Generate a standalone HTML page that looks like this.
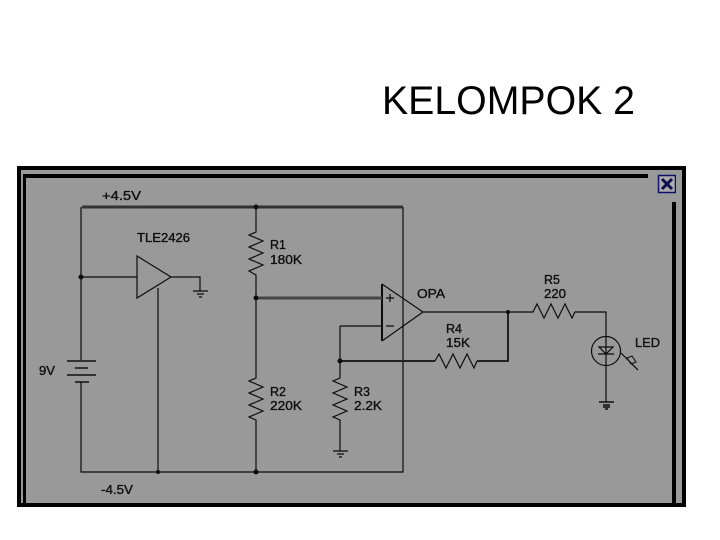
<!DOCTYPE html>
<html>
<head>
<meta charset="utf-8">
<style>
html,body{margin:0;padding:0;background:#fff}
svg{display:block}
text{font-family:"Liberation Sans",sans-serif}
.l{font-size:12.5px;fill:#111;stroke:#111;stroke-width:.35}
</style>
</head>
<body>
<svg width="720" height="540" viewBox="0 0 720 540" xmlns="http://www.w3.org/2000/svg">
<defs><filter id="b" x="0" y="0" width="100%" height="100%"><feGaussianBlur stdDeviation="0.35"/></filter></defs>
<rect width="720" height="540" fill="#fff"/>
<text x="382" y="114" font-size="40" fill="#000" textLength="253" lengthAdjust="spacingAndGlyphs">KELOMPOK 2</text>

<rect x="17" y="166" width="669" height="341" fill="#000"/>
<rect x="21" y="170" width="661" height="333" fill="#999"/>
<g filter="url(#b)">
<rect x="23" y="174" width="3" height="329" fill="#000"/>
<rect x="23" y="174" width="625" height="4" fill="#000"/>
<rect x="672" y="202" width="4" height="301" fill="#000"/>
<rect x="658.500" y="175.500" width="17" height="17" fill="#aaa" stroke="#11116a" stroke-width="1.500"/>
<path d="M662 179L672 189M672 179L662 189" stroke="#0a0a50" stroke-width="3" fill="none"/>

<g fill="none" stroke="#111" stroke-width="1.200">
<path d="M81 207V360M81 382V472H403V207"/>
<path d="M81 277H137M137 256L171 277L137 298ZM171 277H200V291"/>
<path d="M158 288V472"/>
<path d="M256 207V232L249 235L263 241L249 247L263 253L249 259L263 265L249 271L256 275V378L249 381L263 387L249 393L263 399L249 405L263 411L249 417L256 420V472"/>
<path d="M382 284L423 312L382 341M423 312H533L537 304L544 318L551 304L558 318L565 304L572 318L575 312H606V402"/>
<path d="M382 284V341" stroke-width="2"/>
<path d="M340 326H382M340 326V378L333 381L347 387L333 393L347 399L333 405L347 411L333 417L340 420V451"/>
<path d="M435 361L439 354L446 368L453 354L460 368L467 354L474 368L477 361"/>
<circle cx="606" cy="351" r="14.500"/>
<path d="M599 347H613L606 354ZM598 354H614"/>
<path d="M621 353L638 370"/>
<path d="M627 358L632 356L636 362L631 364Z" stroke-width="1"/>
<path d="M67 361H96M75 368H88M67 375H96M75 382H89" stroke-width="1.500"/>
<path d="M193 291H208M197 294H204M199 297H202"/>
<path d="M333 451H348M337 454H344M339 457H342"/>
<path d="M599 402H614M603 405H610M603 407H610M605 409H608" stroke-width="1.500"/>
<path d="M386 298H394M390 294V302M386 326H394" stroke-width="1.200"/>
</g>
<path d="M82 207H403" stroke="#333" stroke-width="3" fill="none"/>
<path d="M256 298H382" stroke="#444" stroke-width="3" fill="none"/>
<path d="M340 361H435M477 361H508V312" stroke="#222" stroke-width="2" fill="none"/>
<g fill="#111">
<circle cx="256" cy="207" r="2.500"/>
<circle cx="81" cy="277" r="2.500"/>
<circle cx="256" cy="298" r="2.500"/>
<circle cx="508" cy="312" r="2"/>
<circle cx="340" cy="361" r="2.500"/>
<circle cx="158" cy="472" r="2"/>
<circle cx="256" cy="472" r="2.500"/>
</g>
<g class="l">
<text class="l" x="102" y="200" textLength="39" lengthAdjust="spacingAndGlyphs">+4.5V</text>
<text class="l" x="137" y="242" textLength="53" lengthAdjust="spacingAndGlyphs">TLE2426</text>
<text class="l" x="270" y="249">R1</text>
<text class="l" x="270" y="264" textLength="32" lengthAdjust="spacingAndGlyphs">180K</text>
<text class="l" x="417" y="298" textLength="28" lengthAdjust="spacingAndGlyphs">OPA</text>
<text class="l" x="544" y="284">R5</text>
<text class="l" x="544" y="298" textLength="22" lengthAdjust="spacingAndGlyphs">220</text>
<text class="l" x="446" y="333">R4</text>
<text class="l" x="446" y="347" textLength="24" lengthAdjust="spacingAndGlyphs">15K</text>
<text class="l" x="635" y="347" textLength="25" lengthAdjust="spacingAndGlyphs">LED</text>
<text class="l" x="39" y="375" textLength="16" lengthAdjust="spacingAndGlyphs">9V</text>
<text class="l" x="270" y="396">R2</text>
<text class="l" x="270" y="410" textLength="32" lengthAdjust="spacingAndGlyphs">220K</text>
<text class="l" x="354" y="396">R3</text>
<text class="l" x="354" y="410" textLength="28" lengthAdjust="spacingAndGlyphs">2.2K</text>
<text class="l" x="101" y="494" textLength="32" lengthAdjust="spacingAndGlyphs">-4.5V</text>
</g>
</g>
</svg>
</body>
</html>
